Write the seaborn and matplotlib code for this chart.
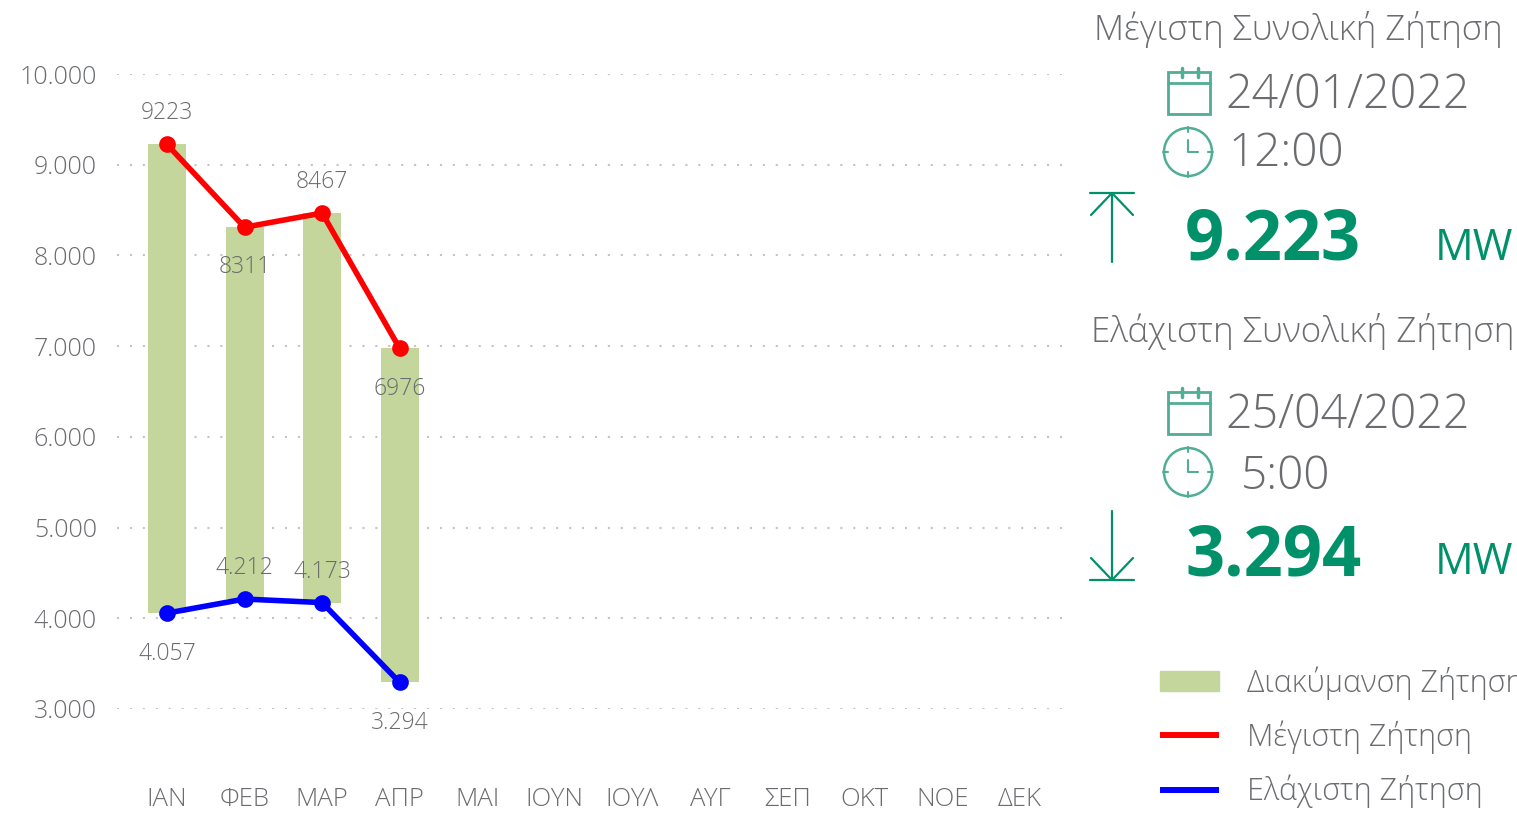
import matplotlib
matplotlib.use("Agg")
import matplotlib.pyplot as plt
from matplotlib.lines import Line2D
from matplotlib.patches import Circle, Patch, Rectangle
import pandas as pd
import seaborn as sns

months = ["ΙΑΝ", "ΦΕΒ", "ΜΑΡ", "ΑΠΡ", "ΜΑΙ", "ΙΟΥΝ", "ΙΟΥΛ", "ΑΥΓ", "ΣΕΠ", "ΟΚΤ", "ΝΟΕ", "ΔΕΚ"]
seen_months = months[:4]
max_demand = [9223, 8311, 8467, 6976]
min_demand = [4057, 4212, 4173, 3294]
max_labels = ["9223", "8311", "8467", "6976"]
min_labels = ["4.057", "4.212", "4.173", "3.294"]
max_offsets = [31, -40, 31, -41]
min_offsets = [-41, 31, 31, -41]
y_ticks = [3000, 4000, 5000, 6000, 7000, 8000, 9000, 10000]
y_tick_labels = ["3.000", "4.000", "5.000", "6.000", "7.000", "8.000", "9.000", "10.000"]

GREY = "#6a6c6f"
GREEN = "#00916a"
THIN_GREEN = "#4fae93"
BAR_GREEN = "#c4d69b"

W, H = 1517, 814

sns.set_theme(style="white")
plt.rcParams["font.family"] = ["Open Sans", "DejaVu Sans"]
plt.rcParams["font.weight"] = "light"

df = pd.DataFrame({"month": seen_months, "max": max_demand, "min": min_demand})
df["range"] = df["max"] - df["min"]

fig = plt.figure(figsize=(W / 100, H / 100), dpi=100)
ax = fig.add_axes([117 / W, 1 - 709 / H, (1068 - 117) / W, (709 - 74) / H])

# Floating bars and the two lines
sns.barplot(ax=ax, data=df, x="month", y="range", order=months, bottom=df["min"].values,
            color=BAR_GREEN, saturation=1, width=0.49, linewidth=0, zorder=2)
sns.pointplot(ax=ax, data=df, x="month", y="max", order=months, color="#ff0000", errorbar=None,
              linewidth=4, markersize=9, zorder=3)
sns.pointplot(ax=ax, data=df, x="month", y="min", order=months, color="#0000ff", errorbar=None,
              linewidth=4, markersize=9, zorder=3)
for coll in ax.collections + ax.lines:
    coll.set_clip_on(False)

for i in range(len(seen_months)):
    ax.annotate(max_labels[i], (i, max_demand[i]), xytext=(0, max_offsets[i] * 0.72),
                textcoords="offset points", ha="center", va="center", fontsize=16.5, color=GREY, zorder=5)
    ax.annotate(min_labels[i], (i, min_demand[i]), xytext=(0, min_offsets[i] * 0.72),
                textcoords="offset points", ha="center", va="center", fontsize=16.5, color=GREY, zorder=5)

ax.set_xlim(-0.645, 11.62)
ax.set_ylim(3000, 10000)
ax.set_yticks(y_ticks, y_tick_labels)
ax.set_xlabel("")
ax.set_ylabel("")
ax.tick_params(axis="y", length=0, pad=14.4, labelsize=18, labelcolor=GREY)
ax.tick_params(axis="x", length=0, pad=56, labelsize=18.5, labelcolor=GREY)
ax.yaxis.grid(True, color="#c4c4c4", linewidth=1.5, linestyle=(0, (1, 5.2)), zorder=0)
ax.set_axisbelow(True)
sns.despine(ax=ax, left=True, bottom=True)

legend_handles = [
    Patch(color=BAR_GREEN, label="Διακύμανση Ζήτηση"),
    Line2D([], [], color="#ff0000", linewidth=4.3, solid_capstyle="butt", label="Μέγιστη Ζήτηση"),
    Line2D([], [], color="#0000ff", linewidth=4.3, solid_capstyle="butt", label="Ελάχιστη Ζήτηση"),
]
fig.legend(handles=legend_handles, loc="upper left", bbox_to_anchor=(1160 / W, 1 - 666 / H), frameon=False,
           fontsize=22, labelcolor=GREY, handlelength=1.93, handleheight=0.65, handletextpad=0.92,
           labelspacing=0.68, borderaxespad=0, borderpad=0)

# Right panel, drawn in pixel coordinates of the figure
ov = fig.add_axes([0, 0, 1, 1], facecolor="none")
ov.set_xlim(0, W)
ov.set_ylim(H, 0)
ov.axis("off")


def calendar(y):
    ov.add_patch(Rectangle((1168, y), 42, 42, fill=False, edgecolor=THIN_GREEN, linewidth=2))
    ov.plot([1168, 1210], [y + 11, y + 11], color=THIN_GREEN, linewidth=2)
    for x in [1182, 1198]:
        ov.plot([x, x], [y - 4, y + 5], color=THIN_GREEN, linewidth=2.5)


def clock(y):
    ov.add_patch(Circle((1188, y), 24, fill=False, edgecolor=THIN_GREEN, linewidth=1.8))
    ov.plot([1188, 1188, 1198], [y - 12, y, y], color=THIN_GREEN, linewidth=1.5)
    ov.plot([1188, 1188], [y - 25, y - 20], color=THIN_GREEN, linewidth=1.5)
    ov.plot([1188, 1188], [y + 20, y + 25], color=THIN_GREEN, linewidth=1.5)
    ov.plot([1163, 1168], [y, y], color=THIN_GREEN, linewidth=1.5)
    ov.plot([1208, 1213], [y, y], color=THIN_GREEN, linewidth=1.5)


def arrow(tip, tail, bar_side):
    ov.plot([1112, 1112], [tip, tail], color=GREEN, linewidth=1.6)
    ov.plot([1090, 1134], [tip, tip], color=GREEN, linewidth=1.6)
    ov.plot([1091, 1112, 1133], [tip + bar_side, tip, tip + bar_side], color=GREEN, linewidth=1.6)


ov.text(1094, 30, "Μέγιστη Συνολική Ζήτηση", fontsize=25, color=GREY, va="center", ha="left")
ov.text(1225, 96, "24/01/2022", fontsize=33.5, color=GREY, va="center", ha="left")
ov.text(1229, 154, "12:00", fontsize=33, color=GREY, va="center", ha="left")
ov.text(1185, 242, "9.223", fontsize=49.5, color=GREEN, weight="bold", va="center", ha="left")
ov.text(1435, 249, "MW", fontsize=31, color=GREEN, weight="normal", va="center", ha="left")
ov.text(1091, 332, "Ελάχιστη Συνολική Ζήτηση", fontsize=25.2, color=GREY, va="center", ha="left")
ov.text(1225, 416, "25/04/2022", fontsize=33.5, color=GREY, va="center", ha="left")
ov.text(1241, 477, "5:00", fontsize=33, color=GREY, va="center", ha="left")
ov.text(1185, 558, "3.294", fontsize=49.5, color=GREEN, weight="bold", va="center", ha="left")
ov.text(1435, 563, "MW", fontsize=31, color=GREEN, weight="normal", va="center", ha="left")

calendar(72)
clock(152)
arrow(193, 262, 22)
calendar(392)
clock(472)
arrow(580, 511, -22)

fig.savefig("out.png", dpi=100)
plt.close(fig)
